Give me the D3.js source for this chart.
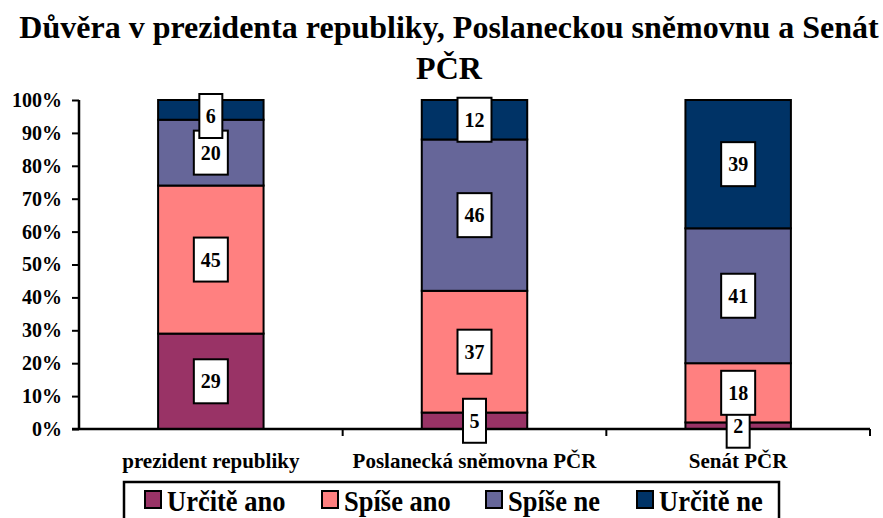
<!DOCTYPE html>
<html>
<head>
<meta charset="utf-8">
<script src="https://cdn.jsdelivr.net/npm/d3@7"></script>
<style>
  body { margin: 0; background: #fff; }
</style>
</head>
<body>
<div id="chart"></div>
<script>
var categories = ["prezident republiky", "Poslanecká sněmovna PČR", "Senát PČR"];
var seriesNames = ["Určitě ano", "Spíše ano", "Spíše ne", "Určitě ne"];
var seriesColors = ["#993366", "#FF8080", "#666699", "#003366"];
var urciteAno = [29, 5, 2];
var spiseAno = [45, 37, 18];
var spiseNe = [20, 46, 41];
var urciteNe = [6, 12, 39];
var yTicks = [0, 10, 20, 30, 40, 50, 60, 70, 80, 90, 100];

var FONT = "'Liberation Serif', 'Times New Roman', Times, serif";

var width = 883, height = 518;
var margin = { top: 100, right: 13, bottom: 89, left: 79 };
var w = width - margin.left - margin.right,
    h = height - margin.top - margin.bottom;

var svg = d3.select("#chart").append("svg")
  .attr("width", width)
  .attr("height", height);

function label(sel) {
  return sel.style("font-family", FONT).style("font-weight", "bold").attr("fill", "#000");
}

// title
label(svg.append("text"))
  .attr("x", 449).attr("y", 38)
  .attr("text-anchor", "middle")
  .style("font-size", "32px")
  .text("Důvěra v prezidenta republiky, Poslaneckou sněmovnu a Senát");
label(svg.append("text"))
  .attr("x", 449).attr("y", 79)
  .attr("text-anchor", "middle")
  .style("font-size", "32px")
  .text("PČR");

var g = svg.append("g")
  .attr("transform", "translate(" + margin.left + "," + margin.top + ")");

var x = d3.scaleBand().domain(categories).range([0, w]).paddingInner(0).paddingOuter(0);
var y = d3.scaleLinear().domain([0, 100]).range([h, 0]);
var barW = x.bandwidth() * 0.4;

var rows = categories.map(function(c, i) {
  return { cat: c, "Určitě ano": urciteAno[i], "Spíše ano": spiseAno[i], "Spíše ne": spiseNe[i], "Určitě ne": urciteNe[i] };
});
var stack = d3.stack().keys(seriesNames)(rows);

// bars
stack.forEach(function(layer, si) {
  g.selectAll(".seg" + si)
    .data(layer)
    .enter().append("rect")
    .attr("x", function(d) { return x(d.data.cat) + (x.bandwidth() - barW) / 2; })
    .attr("y", function(d) { return y(d[1]); })
    .attr("width", barW)
    .attr("height", function(d) { return y(d[0]) - y(d[1]); })
    .attr("fill", seriesColors[si])
    .attr("stroke", "#000")
    .attr("stroke-width", 2);
});

// axes
var yAxis = d3.axisLeft(y).tickValues(yTicks).tickSize(7).tickPadding(10)
  .tickFormat(function(d) { return d + "%"; });
var ya = g.append("g").call(yAxis);
ya.select(".domain").attr("stroke-width", 2.5).attr("d", "M0," + h + "V0");
ya.selectAll(".tick line").attr("stroke-width", 2);
label(ya.selectAll(".tick text")).style("font-size", "20px");

var xa = g.append("g").attr("transform", "translate(0," + h + ")");
xa.append("line").attr("x1", -7).attr("x2", w).attr("stroke", "#000").attr("stroke-width", 2.5);
d3.range(1, categories.length + 1).forEach(function(i) {
  xa.append("line")
    .attr("x1", x.step() * i).attr("x2", x.step() * i)
    .attr("y1", 0).attr("y2", 7)
    .attr("stroke", "#000").attr("stroke-width", 2);
});
label(xa.selectAll(".cat")
  .data(categories)
  .enter().append("text"))
  .attr("x", function(d) { return x(d) + x.bandwidth() / 2; })
  .attr("y", 39)
  .attr("text-anchor", "middle")
  .style("font-size", "21px")
  .text(function(d) { return d; });

// value labels
var boxH = 44;
stack.forEach(function(layer, si) {
  layer.forEach(function(d) {
    var v = d[1] - d[0];
    var cx = x(d.data.cat) + x.bandwidth() / 2;
    var cy = y((d[0] + d[1]) / 2);
    var top = Math.max(cy - boxH / 2, y(100) - 6);
    var txt = String(v);
    var bw = txt.length > 1 ? 34 : 23;
    g.append("rect")
      .attr("x", cx - bw / 2).attr("y", top)
      .attr("width", bw).attr("height", boxH)
      .attr("fill", "#fff").attr("stroke", "#000").attr("stroke-width", 2);
    label(g.append("text"))
      .attr("x", cx).attr("y", top + boxH / 2 + 7)
      .attr("text-anchor", "middle")
      .style("font-size", "20px")
      .text(txt);
  });
});

// legend
var lg = svg.append("g");
lg.append("rect")
  .attr("x", 124).attr("y", 482).attr("width", 655).attr("height", 45)
  .attr("fill", "#fff").attr("stroke", "#000").attr("stroke-width", 2.5);
var legX = [145, 322, 486, 637];
seriesNames.forEach(function(s, i) {
  lg.append("rect")
    .attr("x", legX[i]).attr("y", 491).attr("width", 16).attr("height", 17)
    .attr("fill", seriesColors[i]).attr("stroke", "#000").attr("stroke-width", 2);
  label(lg.append("text"))
    .attr("transform", "translate(" + (legX[i] + 22) + ",511) scale(1,1.12)")
    .style("font-size", "26.5px")
    .text(s);
});
</script>
</body>
</html>
